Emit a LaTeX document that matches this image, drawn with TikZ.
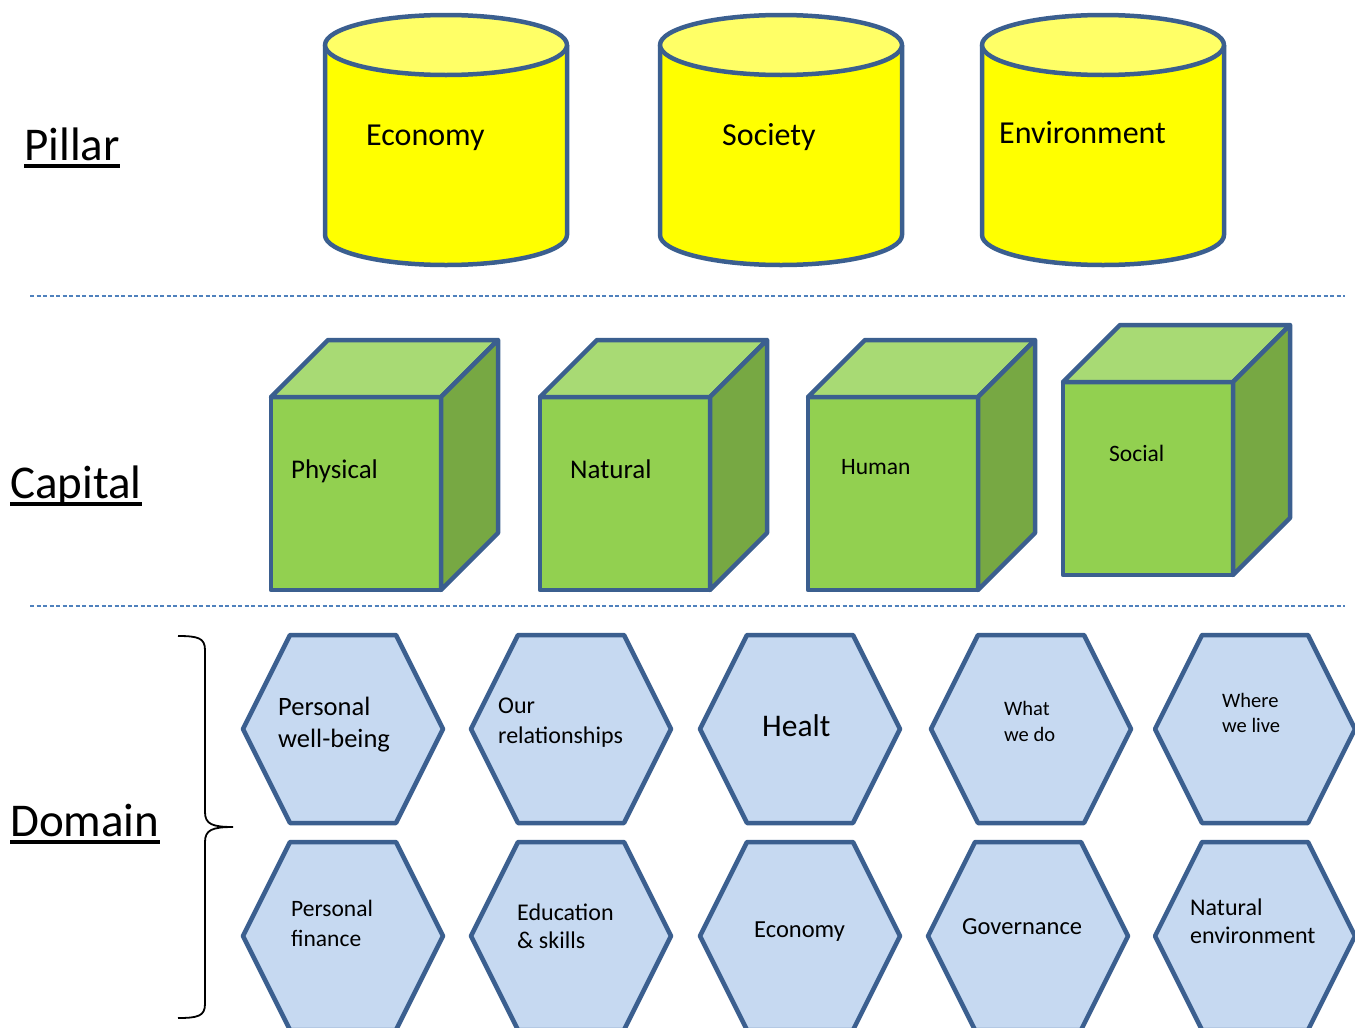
\documentclass[tikz,border=0pt]{standalone}
\usepackage{fontspec}
\setmainfont{Carlito}
\usepackage{tikz}
\definecolor{shapeblue}{HTML}{3B5F8F}
\definecolor{dashblue}{HTML}{4F81BD}
\definecolor{pillarbody}{HTML}{FFFF00}
\definecolor{pillartop}{HTML}{FFFF66}
\definecolor{cubefront}{HTML}{92D050}
\definecolor{cubetop}{HTML}{A8DA74}
\definecolor{cubeside}{HTML}{77A843}
\definecolor{hexfill}{HTML}{C6D9F1}
\newcommand{\fsz}[1]{\fontsize{#1}{#1}\selectfont}
\tikzset{x=1pt,y=-1pt,
        shapeline/.style={draw=shapeblue, line width=4.5, line join=round},
        layer/.style={inner sep=0, anchor=base west, font=\fontsize{47}{52}\selectfont},
        lbl/.style={inner sep=0, anchor=base west, align=left},
        sep/.style={draw=dashblue, line width=1.3, dash pattern=on 4 off 2.5},
        pillar/.pic={
                \draw[shapeline, fill=pillarbody] (-121,0) -- (-121,190) arc[start angle=180, end angle=0, x radius=121, y radius=30] -- (121,0);
                \draw[shapeline, fill=pillartop] (0,0) ellipse [x radius=121, y radius=30];
        },
        cube/.pic={
                \draw[shapeline, fill=cubefront] (0,0) rectangle (170,193);
                \draw[shapeline, fill=cubetop] (0,0) -- (57,-57) -- (227,-57) -- (170,0) -- cycle;
                \draw[shapeline, fill=cubeside] (170,0) -- (227,-57) -- (227,136) -- (170,193) -- cycle;
        },
        hexagon/.pic={
                \draw[shapeline, fill=hexfill] (-100,0) -- (-53,-94) -- (53,-94) -- (100,0) -- (53,94) -- (-53,94) -- cycle;
        }
}

\begin{document}
\begin{tikzpicture}
        \useasboundingbox (0,0) rectangle (1355,1028);
        \node[layer] (pillar) at (24,160) {Pillar};
        \node[layer] (capital) at (10,498) {Capital};
        \node[layer] (domain) at (10,836) {Domain};
        \foreach \n in {pillar,capital,domain}
                \draw[line width=3.5] ([yshift=-6]\n.base west) -- ([yshift=-6]\n.base east);
        \draw[sep] (30,296) -- (1345,296);
        \draw[sep] (30,606) -- (1345,606);

        \pic (p1) at (446,45) {pillar};
        \pic (p2) at (781,45) {pillar};
        \pic (p3) at (1103,45) {pillar};
        \node[lbl, font=\fsz{32}] (eco) at (366,145) {Economy};
        \node[lbl, font=\fsz{32}] (soc) at (722,145) {Society};
        \node[lbl, font=\fsz{32}] (env) at (999,143) {Environment};

        \pic (c1) at (271,397) {cube};
        \pic (c2) at (540,397) {cube};
        \pic (c3) at (808,397) {cube};
        \pic (c4) at (1063,382) {cube};
        \node[lbl, font=\fsz{27}] (phys) at (291,478) {Physical};
        \node[lbl, font=\fsz{27}] (nat) at (570,478) {Natural};
        \node[lbl, font=\fsz{23.5}] (hum) at (841,474) {Human};
        \node[lbl, font=\fsz{23.5}] (socl) at (1109,461) {Social};

        \draw[line width=1.8] (178,636) .. controls (198,636) and (205,638) .. (205,650) -- (205,812)
                .. controls (205,824) and (212,827) .. (233,827) .. controls (212,827) and (205,830) .. (205,842)
                -- (205,1004) .. controls (205,1016) and (198,1018) .. (178,1018);

        \pic (h1) at (343,729) {hexagon};
        \pic (h2) at (571,729) {hexagon};
        \pic (h3) at (800,729) {hexagon};
        \pic (h4) at (1031,729) {hexagon};
        \pic (h5) at (1255,729) {hexagon};
        \pic (h6) at (343,936) {hexagon};
        \pic (h7) at (571,936) {hexagon};
        \pic (h8) at (800,936) {hexagon};
        \pic (h9) at (1028,936) {hexagon};
        \pic (h10) at (1255,936) {hexagon};
        \node[lbl, font=\fontsize{26.5}{32}\selectfont] (wellbeing) at (278,747) {Personal\\well-being};
        \node[lbl, font=\fontsize{24}{30}\selectfont] (relations) at (498,743) {Our\\relationships};
        \node[lbl, font=\fsz{31.5}] (health) at (762,736) {Healt};
        \node[lbl, font=\fontsize{20.5}{26}\selectfont] (work) at (1004,741) {What\\we do};
        \node[lbl, font=\fontsize{20.5}{25}\selectfont] (live) at (1222,732) {Where\\we live};
        \node[lbl, font=\fontsize{23.5}{30}\selectfont] (finance) at (291,946) {Personal\\finance};
        \node[lbl, font=\fontsize{24}{28}\selectfont] (skills) at (517,948) {Education\\\& skills};
        \node[lbl, font=\fsz{24.5}] (economy) at (754,937) {Economy};
        \node[lbl, font=\fsz{24.5}] (gov) at (962,934) {Governance};
        \node[lbl, font=\fontsize{24}{28}\selectfont] (natenv) at (1190,943) {Natural\\environment};
\end{tikzpicture}
\end{document}
